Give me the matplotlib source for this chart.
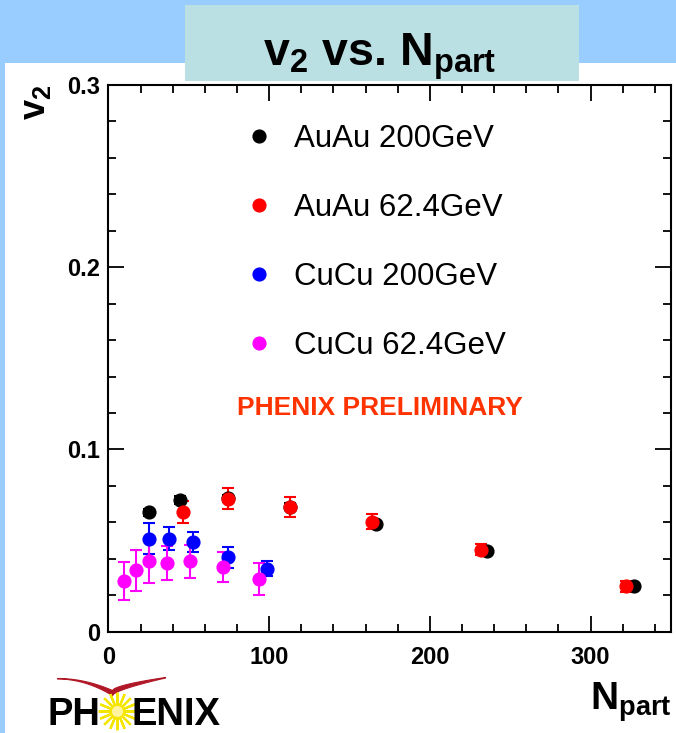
import numpy as np
import matplotlib
matplotlib.use("Agg")
import matplotlib.pyplot as plt
from matplotlib.patches import Rectangle
from matplotlib.ticker import MultipleLocator

# ===============================
# Dados
# ===============================
npart_auau200 = [25.2, 44.5, 74.4, 112.9, 166.4, 235.3, 327.2]
v2_auau200 = [0.0656, 0.0722, 0.0731, 0.0687, 0.0590, 0.0442, 0.0250]
err_auau200 = [0.002, 0.002, 0.002, 0.002, 0.0015, 0.0015, 0.0015]

npart_auau62 = [46.2, 74.5, 112.9, 163.9, 231.8, 322.0]
v2_auau62 = [0.0656, 0.0730, 0.0685, 0.0604, 0.0450, 0.0250]
err_auau62 = [0.006, 0.0056, 0.0053, 0.004, 0.003, 0.003]

npart_cucu200 = [25.2, 37.6, 52.8, 74.2, 98.8]
v2_cucu200 = [0.0511, 0.0511, 0.0490, 0.0408, 0.0346]
err_cucu200 = [0.0087, 0.0064, 0.0055, 0.0057, 0.004]

npart_cucu62 = [9.8, 16.9, 25.4, 36.2, 50.7, 71.1, 93.8]
v2_cucu62 = [0.0279, 0.0336, 0.0386, 0.0377, 0.0386, 0.0355, 0.0289]
err_cucu62 = [0.0106, 0.011, 0.012, 0.0093, 0.009, 0.0083, 0.009]

rotulos = ["AuAu 200GeV", "AuAu 62.4GeV", "CuCu 200GeV", "CuCu 62.4GeV"]
cores = ["black", "#FF0000", "#0000FF", "#FF00FF"]

xticks = [0, 100, 200, 300]
xticklabels = ["0", "100", "200", "300"]
yticks = [0, 0.1, 0.2, 0.3]
yticklabels = ["0", "0.1", "0.2", "0.3"]

# ===============================
# Estilo
# ===============================
plt.rcParams["font.family"] = ["Liberation Sans", "DejaVu Sans"]
plt.rcParams["mathtext.fontset"] = "custom"
plt.rcParams["mathtext.rm"] = "Liberation Sans:bold"
plt.rcParams["mathtext.it"] = "Liberation Sans:bold"
plt.rcParams["mathtext.bf"] = "Liberation Sans:bold"

fig = plt.figure(figsize=(6.76, 7.33), dpi=100)
fig.patch.set_facecolor("white")

# fundo azul (topo e faixa esquerda)
fig.patches.append(Rectangle((0, 0.914), 1, 0.086, transform=fig.transFigure,
                             facecolor="#99CCFF", edgecolor="none", zorder=0))
fig.patches.append(Rectangle((0, 0), 0.0074, 1, transform=fig.transFigure,
                             facecolor="#99CCFF", edgecolor="none", zorder=0))
# caixa do título
fig.patches.append(Rectangle((0.2737, 0.8895), 0.5828, 0.1037,
                             transform=fig.transFigure,
                             facecolor="#BBE0E3", edgecolor="none", zorder=1))
fig.text(0.562, 0.91, r"$\mathbf{v_2}$ vs. $\mathbf{N_{part}}$",
         fontsize=33.5, fontweight="bold", ha="center", va="baseline")

# ===============================
# Gráfico principal
# ===============================
ax = fig.add_axes([0.1605, 0.1382, 0.8321, 0.7458])

series = [
    (npart_auau200, v2_auau200, err_auau200),
    (npart_auau62, v2_auau62, err_auau62),
    (npart_cucu200, v2_cucu200, err_cucu200),
    (npart_cucu62, v2_cucu62, err_cucu62),
]

handles = []
for (x, y, e), cor in zip(series, cores):
    c = ax.errorbar(x, y, yerr=e, fmt="o", color=cor, ms=9.2,
                    elinewidth=1.5, capsize=4, capthick=1.5)
    handles.append(c[0])

ax.set_xlim(0, 350)
ax.set_ylim(0, 0.3)
ax.set_xticks(xticks)
ax.set_xticklabels(xticklabels)
ax.set_yticks(yticks)
ax.set_yticklabels(yticklabels)
ax.xaxis.set_minor_locator(MultipleLocator(20))
ax.yaxis.set_minor_locator(MultipleLocator(0.02))
ax.tick_params(which="both", direction="in", top=True, right=True,
               width=1.3, labelsize=17)
ax.tick_params(which="major", length=11.5)
ax.tick_params(which="minor", length=5.5)
ax.tick_params(axis="x", pad=10)
ax.tick_params(axis="y", pad=6)
for lab in ax.get_xticklabels() + ax.get_yticklabels():
    lab.set_fontweight("bold")
for s in ax.spines.values():
    s.set_linewidth(1.5)

ax.legend(handles, rotulos, frameon=False, loc="upper left",
          bbox_to_anchor=(0.242, 0.9295), borderpad=0, borderaxespad=0,
          handlelength=0.95, handletextpad=0.62, labelspacing=1.25,
          fontsize=22.5, markerscale=1.0)

ax.text(0.4827, 0.409, "PHENIX PRELIMINARY", transform=ax.transAxes,
        color="#FF3300", fontsize=19, fontweight="bold",
        ha="center", va="center")

# rótulos dos eixos
fig.text(0.052, 0.861, r"$\mathbf{v_2}$", fontsize=26, rotation=90,
         ha="center", va="center")
fig.text(0.994, 0.0314, r"$\mathbf{N_{part}}$", fontsize=28,
         ha="right", va="baseline")

# ===============================
# Logo PHENIX (aproximado)
# ===============================
fig.text(48 / 676, 1 - 725 / 733, "PH", fontsize=27.5, fontweight="bold",
         ha="left", va="baseline")
fig.text(131 / 676, 1 - 725 / 733, "ENIX", fontsize=27.5, fontweight="bold",
         ha="left", va="baseline")
lg = fig.add_axes([0, 0, 1, 1], facecolor="none")
lg.set_xlim(0, 676)
lg.set_ylim(733, 0)
lg.axis("off")
t = np.linspace(0, 1, 40)
# asas: preenchidas, mais grossas no meio
esq_x = 57 + 55 * t
esq_top = 678 + 12 * t ** 2
esq_bot = esq_top + 0.5 + 4.5 * t ** 2
dir_x = 112 + 53 * t
dir_top = 690 - 13 * t ** 0.6
dir_bot = dir_top + 5 - 4.5 * t
lg.fill_between(esq_x, esq_top, esq_bot, color="#B01828", lw=0.8)
lg.fill_between(dir_x, dir_top, dir_bot, color="#B01828", lw=0.8)
lg.plot([117], [711], marker=(16, 2, 0), ms=27, mew=1.6, color="#F5E600")
lg.plot([117], [711], marker="o", ms=8, color="#FFF3A0", mec="none")

# detalhe decorativo no canto superior direito
lg.plot([603, 648], [2, 62], color="#D6ECFF", lw=2, ls=(0, (2, 3)))
lg.plot([597, 580], [5, 22], color="#D6ECFF", lw=2, ls=(0, (2, 3)))

fig.savefig("out.png", dpi=100)
